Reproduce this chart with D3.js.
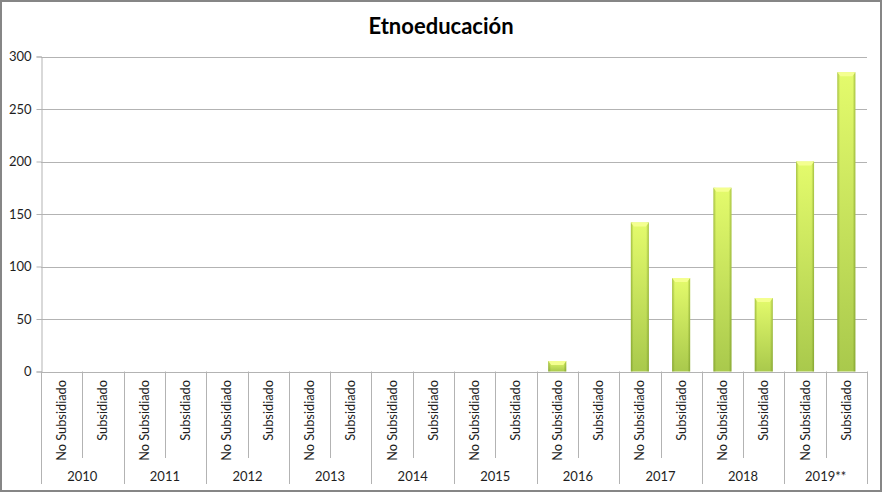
<!DOCTYPE html>
<html><head><meta charset="utf-8">
<script src="https://cdn.jsdelivr.net/npm/d3@7"></script>
<style>body{margin:0;background:#fff}svg{display:block}text{font-family:Lato,"Open Sans",sans-serif}</style>
</head><body>
<svg id="c" width="882" height="492"></svg>
<script>
const years = ["2010","2011","2012","2013","2014","2015","2016","2017","2018","2019**"];
const subcats = ["No Subsidiado","Subsidiado"];
const values = [0,0, 0,0, 0,0, 0,0, 0,0, 0,0, 10,0, 142,89, 175,70, 200,285];
const yTicks = [0,50,100,150,200,250,300];
const title = "Etnoeducación";

(function(){
const svg = d3.select("#c");
const W=882,H=492;
const pL=41,pR=867,pT=56.5,pB=371.5;
svg.append("rect").attr("x",1).attr("y",1).attr("width",W-2).attr("height",H-2).attr("fill","#fff").attr("stroke","#868686").attr("stroke-width",2);

const defs=svg.append("defs");
const g1=defs.append("linearGradient").attr("id","gv").attr("x1",0).attr("x2",0).attr("y1",0).attr("y2",1);
g1.append("stop").attr("offset","0%").attr("stop-color","#e4fb6c");
g1.append("stop").attr("offset","100%").attr("stop-color","#a9c94c");
const g2=defs.append("linearGradient").attr("id","gh").attr("x1",0).attr("x2",1).attr("y1",0).attr("y2",0);
g2.append("stop").attr("offset","0%").attr("stop-color","#5a7a10").attr("stop-opacity",0.45);
g2.append("stop").attr("offset","15%").attr("stop-color","#5a7a10").attr("stop-opacity",0);
g2.append("stop").attr("offset","85%").attr("stop-color","#5a7a10").attr("stop-opacity",0);
g2.append("stop").attr("offset","100%").attr("stop-color","#5a7a10").attr("stop-opacity",0.45);

const cats = [];
years.forEach(y=>subcats.forEach(s=>cats.push(y+"|"+s)));
const x=d3.scaleBand().domain(cats).range([pL,pR]);
const xy=d3.scaleBand().domain(years).range([pL,pR]);
const y=d3.scaleLinear().domain([0,300]).range([pB,pT]);

svg.append("g").selectAll("line").data(yTicks).join("line")
  .attr("x1",pL).attr("x2",pR).attr("y1",d=>Math.round(y(d))+0.5).attr("y2",d=>Math.round(y(d))+0.5)
  .attr("stroke","#b3b3b3").attr("stroke-width",1);

const ya=svg.append("g").attr("transform",`translate(${pL+0.5},0)`).call(d3.axisLeft(y).tickValues(yTicks).tickSize(5).tickPadding(5));
ya.select(".domain").attr("stroke","#b3b3b3");
ya.selectAll(".tick line").attr("stroke","#b3b3b3");
ya.selectAll("text").attr("font-size",13).attr("fill","#1e1e1e").attr("font-family","Lato,'Open Sans',sans-serif");

const bw=18;
const data=cats.map((c,i)=>({c,v:values[i]})).filter(d=>d.v>0);
const bars=svg.append("g").selectAll("g").data(data).join("g");
bars.append("rect").attr("x",d=>x(d.c)+x.bandwidth()/2-bw/2).attr("width",bw).attr("y",d=>y(d.v)).attr("height",d=>y(0)-y(d.v)).attr("fill","url(#gv)");
bars.append("rect").attr("x",d=>x(d.c)+x.bandwidth()/2-bw/2).attr("width",bw).attr("y",d=>y(d.v)).attr("height",d=>y(0)-y(d.v)).attr("fill","url(#gh)");
bars.append("path").attr("d",d=>{const x0=x(d.c)+x.bandwidth()/2-bw/2, y0=y(d.v); return `M${x0},${y0}L${x0+bw},${y0}L${x0+bw-3},${y0+4}L${x0+3},${y0+4}Z`;}).attr("fill","#f4ff90");

svg.append("line").attr("x1",pL).attr("x2",pR).attr("y1",Math.round(pB)+0.5).attr("y2",Math.round(pB)+0.5).attr("stroke","#b3b3b3");
const sep=svg.append("g");
cats.forEach((c,i)=>{
  const xx=Math.round(x(c))+0.5;
  const isYear=i%2===0;
  sep.append("line").attr("x1",xx).attr("x2",xx).attr("y1",pB).attr("y2",isYear?484:458).attr("stroke","#b3b3b3");
});
sep.append("line").attr("x1",Math.round(pR)+0.5).attr("x2",Math.round(pR)+0.5).attr("y1",pB).attr("y2",484).attr("stroke","#b3b3b3");

svg.append("g").selectAll("text").data(cats).join("text")
  .attr("transform",d=>`translate(${x(d)+x.bandwidth()/2+4.5},380) rotate(-90)`)
  .attr("text-anchor","end").attr("font-size",12.8).attr("fill","#1e1e1e")
  .text(d=>d.split("|")[1]);
svg.append("g").selectAll("text").data(years).join("text")
  .attr("x",d=>xy(d)+xy.bandwidth()/2).attr("y",481).attr("text-anchor","middle").attr("font-size",13).attr("fill","#1e1e1e").text(d=>d);

svg.append("text").attr("x",441).attr("y",34).attr("text-anchor","middle").attr("font-size",22).attr("font-weight","bold").attr("fill","#000").text(title);
})();
</script>
</body></html>
